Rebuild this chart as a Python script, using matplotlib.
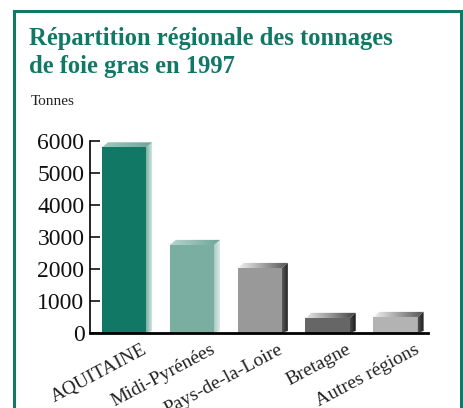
import numpy as np
import matplotlib.pyplot as plt
from matplotlib.patches import Polygon, Rectangle
from matplotlib.colors import LinearSegmentedColormap

regions = ['AQUITAINE', 'Midi-Pyrénées', 'Pays-de-la-Loire', 'Bretagne', 'Autres régions']
tonnes = [5800, 2750, 2030, 470, 500]
front_colors = ['#127866', '#7aaea0', '#999999', '#666666', '#b3b3b3']
side_colors = [('#7aaea0', '#e0eeea'), ('#a9cbc2', '#e3efec'),
               ('#5a5a5a', '#1a1a1a'), ('#4a4a4a', '#111111'), ('#5a5a5a', '#1a1a1a')]
top_colors = [('#a0c8bd', '#6ea597'), ('#b6d4cc', '#6ea597'),
              ('#f0f0f0', '#555555'), ('#e8e8e8', '#444444'), ('#f0f0f0', '#555555')]
yticks = [0, 1000, 2000, 3000, 4000, 5000, 6000]

teal = '#127866'
plt.rcParams['font.family'] = ['Liberation Serif', 'DejaVu Serif']

fig = plt.figure(figsize=(4.64, 4.08), dpi=100)
fig.patches.append(Rectangle((14 / 464, -0.1), 447 / 464, 1.1 - 11 / 408, transform=fig.transFigure,
                             fill=False, edgecolor=teal, linewidth=2.2))
fig.text(29 / 464, 1 - 45 / 408, 'Répartition régionale des tonnages', color=teal,
         fontsize=17.7, fontweight='bold', va='baseline')
fig.text(29 / 464, 1 - 73 / 408, 'de foie gras en 1997', color=teal,
         fontsize=17.7, fontweight='bold', va='baseline')
fig.text(31 / 464, 1 - 105 / 408, 'Tonnes', fontsize=11, va='baseline', color='#222222')

ax = fig.add_axes([90 / 464, 75 / 408, 338 / 464, 192 / 408])

w = 0.65
dx = 0.09   # depth offset in x (data)
dy = 160    # depth offset in y (data)


def grad_fill(poly_xy, c0, c1):
    # gradient image clipped to the face polygon
    poly = Polygon(poly_xy, closed=True, facecolor='none', edgecolor='none')
    ax.add_patch(poly)
    xs = [p[0] for p in poly_xy]
    ys = [p[1] for p in poly_xy]
    cmap = LinearSegmentedColormap.from_list('g', [c0, c1])
    im = ax.imshow(np.linspace(0, 1, 64)[None, :], cmap=cmap,
                   extent=[min(xs), max(xs), min(ys), max(ys)],
                   origin='lower', aspect='auto', zorder=2, interpolation='bilinear')
    im.set_clip_path(poly)


for i, (v, fc) in enumerate(zip(tonnes, front_colors)):
    x0 = i - w / 2
    x1 = i + w / 2
    ax.bar(i, v, width=w, color=fc, zorder=3)
    grad_fill([(x1, 0), (x1 + dx, dy * 0.4), (x1 + dx, v + dy), (x1, v)], *side_colors[i])
    grad_fill([(x0, v), (x0 + dx, v + dy), (x1 + dx, v + dy), (x1, v)], *top_colors[i])

ax.set_xlim(-0.5, 4.48)
ax.set_ylim(0, 6000)
ax.set_yticks(yticks)
ax.set_yticklabels([str(t) for t in yticks], fontsize=17)
ax.tick_params(axis='y', direction='in', length=7, width=1.2, pad=4, colors='#111111')
ax.set_xticks(range(len(regions)))
ax.set_xticklabels([])
ax.tick_params(axis='x', length=0)
for i, r in enumerate(regions):
    ax.annotate(r, xy=(i + 0.27, 0), xycoords='data', xytext=(0, -6), textcoords='offset points',
                ha='right', va='top', rotation=28, rotation_mode='anchor', fontsize=14,
                color='#222222', annotation_clip=False)
for s in ['top', 'right']:
    ax.spines[s].set_visible(False)
ax.spines['left'].set_linewidth(1.2)
ax.spines['bottom'].set_linewidth(2)
ax.spines['bottom'].set_zorder(5)
ax.set_facecolor('none')

fig.savefig('out.png', dpi=100)
